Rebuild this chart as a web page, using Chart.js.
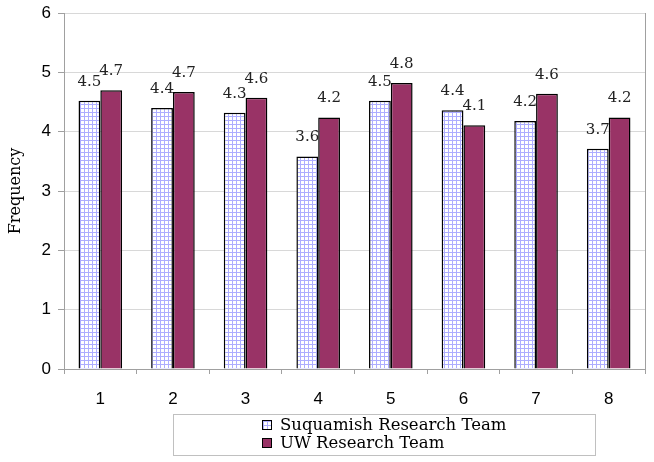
<!DOCTYPE html>
<html>
<head>
<meta charset="utf-8">
<script src="https://cdn.jsdelivr.net/npm/chart.js@4"></script>
<style>
  html, body { margin: 0; padding: 0; background: #fff; }
  #wrap { position: relative; width: 654px; height: 462px; }
  canvas { display: block; }
  #legend {
    position: absolute; left: 173px; top: 414px; width: 423px; height: 42px;
    border: 1px solid #c0c0c0; box-sizing: border-box;
    font-family: "DejaVu Serif", serif; font-size: 16.5px; color: #000;
    padding: 1px 0 0 88px; line-height: 18px;
  }
  .item { display: flex; align-items: center; }
  .sw { width: 8px; height: 8px; border: 1px solid #000; margin-right: 8px; }
</style>
</head>
<body>
<div id="wrap">
  <canvas id="chart" width="654" height="462"></canvas>
  <div id="legend">
    <div class="item"><span class="sw" id="sw1"></span>Suquamish Research Team</div>
    <div class="item"><span class="sw" style="background:#993366"></span>UW Research Team</div>
  </div>
</div>
<script>
// values
const categories = ['1', '2', '3', '4', '5', '6', '7', '8'];
const suquamish = [4.52, 4.40, 4.32, 3.58, 4.52, 4.36, 4.18, 3.71];
const uwTeam = [4.70, 4.67, 4.57, 4.24, 4.82, 4.11, 4.64, 4.24];
const yTicks = [0, 1, 2, 3, 4, 5, 6];

// blue grid fill for the Suquamish bars
function makeGrid() {
    const c = document.createElement('canvas');
    c.width = 4; c.height = 4;
    const g = c.getContext('2d');
    g.fillStyle = '#ffffff';
    g.fillRect(0, 0, 4, 4);
    g.fillStyle = '#adadff';
    g.fillRect(0, 0, 4, 1);
    g.fillRect(0, 0, 1, 4);
    return c;
}
const gridCanvas = makeGrid();
const ctx = document.getElementById('chart').getContext('2d');
const gridPattern = ctx.createPattern(gridCanvas, 'repeat');
document.getElementById('sw1').style.background = 'url(' + gridCanvas.toDataURL() + ')';

// value labels above every bar
const barLabels = {
    id: 'barLabels',
    afterDatasetsDraw(chart) {
        const c = chart.ctx;
        c.save();
        c.font = '15px "DejaVu Serif", serif';
        c.fillStyle = '#222';
        c.textAlign = 'center';
        c.textBaseline = 'middle';
        chart.data.datasets.forEach((ds, i) => {
            chart.getDatasetMeta(i).data.forEach((bar, j) => {
                c.fillText(ds.data[j].toFixed(1), bar.x, bar.y - 19);
            });
        });
        c.restore();
    }
};

// gray frame on the right of the plot
const frame = {
    id: 'frame',
    beforeDatasetsDraw(chart) {
        const a = chart.chartArea, c = chart.ctx;
        c.save();
        c.strokeStyle = '#a0a0a0';
        c.lineWidth = 1;
        c.beginPath();
        c.moveTo(a.right + 0.5, a.top);
        c.lineTo(a.right + 0.5, a.bottom);
        c.stroke();
        c.restore();
    }
};

new Chart(ctx, {
    type: 'bar',
    data: {
        labels: categories,
        datasets: [{
            label: 'Suquamish Research Team',
            data: suquamish,
            backgroundColor: gridPattern,
            borderColor: '#000',
            borderWidth: 1.5,
            borderSkipped: 'bottom'
        }, {
            label: 'UW Research Team',
            data: uwTeam,
            backgroundColor: '#993366',
            borderColor: '#000',
            borderWidth: 1.5,
            borderSkipped: 'bottom'
        }]
    },
    options: {
        responsive: false,
        animation: false,
        layout: { padding: { top: 13, right: 9, bottom: 0, left: 0 } },
        datasets: { bar: { categoryPercentage: 0.6, barPercentage: 1 } },
        plugins: {
            legend: { display: false },
            tooltip: { enabled: false }
        },
        scales: {
            x: {
                grid: { display: true, drawOnChartArea: false, tickLength: 5, color: '#a0a0a0', offset: true },
                border: { color: '#a0a0a0' },
                ticks: { color: '#000', font: { family: '"Liberation Sans", Arial, sans-serif', size: 17 }, padding: 15 },
                afterFit: s => { s.height = 93; }
            },
            y: {
                min: 0, max: 6,
                afterBuildTicks: s => { s.ticks = yTicks.map(v => ({ value: v })); },
                grid: { color: '#d8d8d8', tickLength: 6, tickColor: '#a0a0a0' },
                border: { color: '#a0a0a0' },
                ticks: { color: '#000', font: { family: '"Liberation Sans", Arial, sans-serif', size: 17 }, padding: 7 },
                title: {
                    display: true, text: 'Frequency', color: '#000',
                    font: { family: '"DejaVu Serif", serif', size: 16 },
                    padding: { top: 6, bottom: 0 }
                },
                afterFit: s => { s.width = 64; s.paddingTop = 0; s.paddingBottom = 0; }
            }
        }
    },
    plugins: [frame, barLabels]
});
</script>
</body>
</html>
